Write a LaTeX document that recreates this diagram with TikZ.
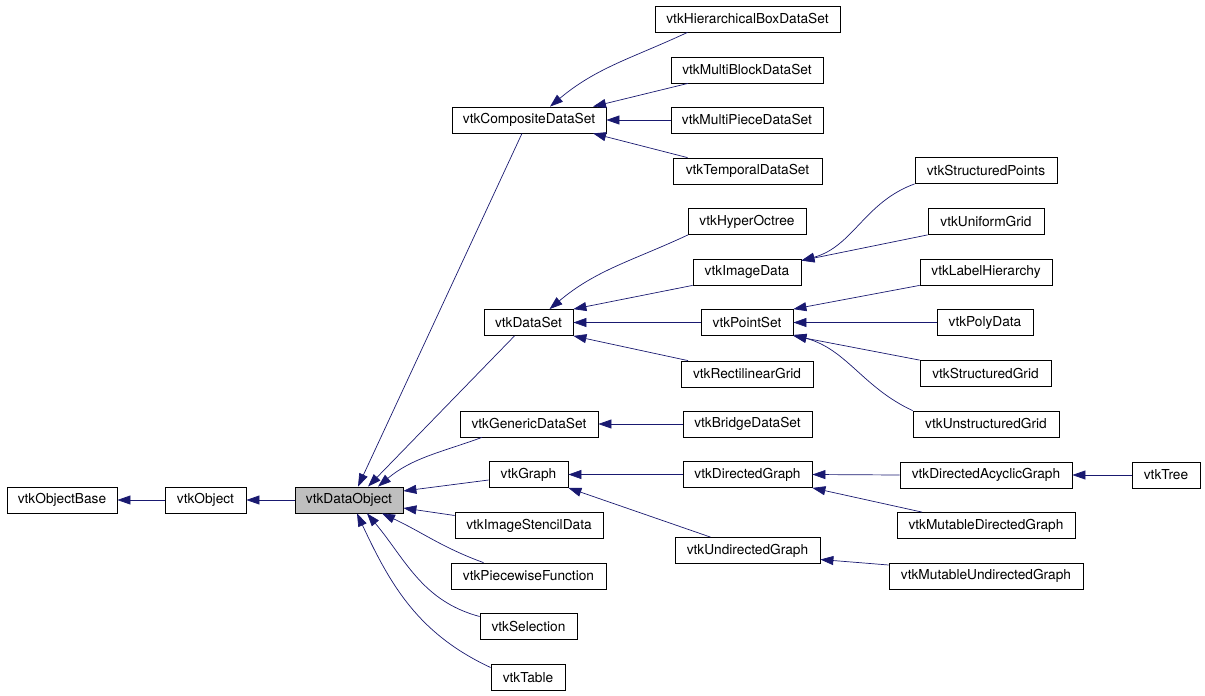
\documentclass[tikz,border=0pt]{standalone}
\usepackage{fontspec}
\setmainfont{TeX Gyre Heros}
\usetikzlibrary{arrows.meta}
\definecolor{edgeblue}{HTML}{191970}
\definecolor{focusgrey}{HTML}{BFBFBF}

\begin{document}
\begin{tikzpicture}[x=1pt,y=1pt]
        \tikzset{
            cls/.style={draw=black, line width=0.8pt, minimum width=#1, minimum height=26pt,
                inner sep=1pt, font=\fontsize{13.7}{16}\selectfont},
            inh/.style={draw=edgeblue, line width=0.7pt, -{Triangle[length=13pt,width=9pt]}},
        }
        \useasboundingbox (0,0) rectangle (1205,-696);

        \node[cls=110] (objectbase) at (62,-500) {vtkObjectBase};
        \node[cls=81] (object) at (205.5,-500) {vtkObject};
        \node[cls=108, fill=focusgrey] (dataobject) at (349,-500) {vtkDataObject};

        \node[cls=154] (composite) at (529,-120) {vtkCompositeDataSet};
        \node[cls=89] (dataset) at (528.5,-322.5) {vtkDataSet};
        \node[cls=138] (generic) at (529,-424) {vtkGenericDataSet};
        \node[cls=79] (graph) at (528.5,-474.5) {vtkGraph};
        \node[cls=148] (stencil) at (529,-525.5) {vtkImageStencilData};
        \node[cls=155] (piecewise) at (528.5,-576) {vtkPiecewiseFunction};
        \node[cls=97] (selection) at (528.5,-626.5) {vtkSelection};
        \node[cls=74] (table) at (528,-677.5) {vtkTable};

        \node[cls=185] (hierbox) at (747.5,-19) {vtkHierarchicalBoxDataSet};
        \node[cls=152] (multiblock) at (747,-70) {vtkMultiBlockDataSet};
        \node[cls=152] (multipiece) at (747,-120) {vtkMultiPieceDataSet};
        \node[cls=149] (temporal) at (747.5,-171) {vtkTemporalDataSet};
        \node[cls=118] (hyperoctree) at (747,-221.5) {vtkHyperOctree};
        \node[cls=108] (imagedata) at (747,-272) {vtkImageData};
        \node[cls=92] (pointset) at (747,-322.5) {vtkPointSet};
        \node[cls=132] (rectgrid) at (747,-374) {vtkRectilinearGrid};
        \node[cls=129] (bridge) at (747.5,-424) {vtkBridgeDataSet};
        \node[cls=129] (directed) at (747.5,-474.5) {vtkDirectedGraph};
        \node[cls=145] (undirected) at (747.5,-550.5) {vtkUndirectedGraph};

        \node[cls=142] (structpoints) at (986,-170.5) {vtkStructuredPoints};
        \node[cls=116] (uniform) at (986,-221.5) {vtkUniformGrid};
        \node[cls=132] (labelhier) at (986,-272) {vtkLabelHierarchy};
        \node[cls=96] (polydata) at (985,-322.5) {vtkPolyData};
        \node[cls=131] (structgrid) at (985.5,-373.5) {vtkStructuredGrid};
        \node[cls=146] (unstructgrid) at (986,-424) {vtkUnstructuredGrid};
        \node[cls=172] (acyclic) at (986,-475) {vtkDirectedAcyclicGraph};
        \node[cls=178] (mutdirected) at (986,-525.5) {vtkMutableDirectedGraph};
        \node[cls=194] (mutundirected) at (986,-576) {vtkMutableUndirectedGraph};
        \node[cls=68] (tree) at (1166,-475) {vtkTree};

        \draw[inh] (object.west) -- (objectbase.east);
        \draw[inh] (dataobject.west) -- (object.east);

        \draw[inh] ([xshift=-7pt]composite.south) -- ([xshift=9pt]dataobject.north);
        \draw[inh] ([xshift=-14pt]dataset.south) -- ([xshift=19pt]dataobject.north);
        \draw[inh] ([xshift=-47pt]generic.south) to[out=200,in=40] ([xshift=29pt]dataobject.north);
        \draw[inh] ([yshift=-5.5pt]graph.west) -- ([yshift=9pt]dataobject.east);
        \draw[inh] ([yshift=10pt]stencil.west) -- ([yshift=-8pt]dataobject.east);
        \draw[inh] ([xshift=-45pt]piecewise.north) to[out=160,in=-25] ([xshift=33pt]dataobject.south);
        \draw[inh] ([yshift=10pt]selection.west) to[out=165,in=-50] ([xshift=18pt]dataobject.south);
        \draw[inh] ([yshift=10pt]table.west) to[out=155,in=-65] ([xshift=8pt]dataobject.south);

        \draw[inh] ([xshift=-60pt]hierbox.south) to[out=205,in=40] ([xshift=21pt]composite.north);
        \draw[inh] ([xshift=-59pt]multiblock.south) -- ([xshift=64pt]composite.north);
        \draw[inh] (multipiece.west) -- (composite.east);
        \draw[inh] ([xshift=-60pt]temporal.north) -- ([xshift=64pt]composite.south);

        \draw[inh] ([xshift=-59pt]hyperoctree.south) to[out=205,in=40] ([xshift=21pt]dataset.north);
        \draw[inh] (imagedata.south west) -- (dataset.north east);
        \draw[inh] (pointset.west) -- (dataset.east);
        \draw[inh] ([xshift=-59pt]rectgrid.north) -- (dataset.south east);

        \draw[inh] (structpoints.south west) to[out=200,in=15] ([yshift=-2pt]imagedata.north east);
        \draw[inh] (uniform.south west) -- ([yshift=-2pt]imagedata.north east);

        \draw[inh] (labelhier.south west) -- (pointset.north east);
        \draw[inh] (polydata.west) -- (pointset.east);
        \draw[inh] (structgrid.north west) -- (pointset.south east);
        \draw[inh] (unstructgrid.north west) to[out=155,in=-15] ([yshift=1pt]pointset.south east);

        \draw[inh] (bridge.west) -- (generic.east);
        \draw[inh] (directed.west) -- (graph.east);
        \draw[inh] ([xshift=-37pt]undirected.north) -- (graph.south east);
        \draw[inh] (acyclic.west) -- (directed.east);
        \draw[inh] ([xshift=-64pt]mutdirected.north) -- (directed.south east);
        \draw[inh] ([yshift=11pt]mutundirected.west) -- ([yshift=-9pt]undirected.east);
        \draw[inh] (tree.west) -- (acyclic.east);
    \end{tikzpicture}
\end{document}
